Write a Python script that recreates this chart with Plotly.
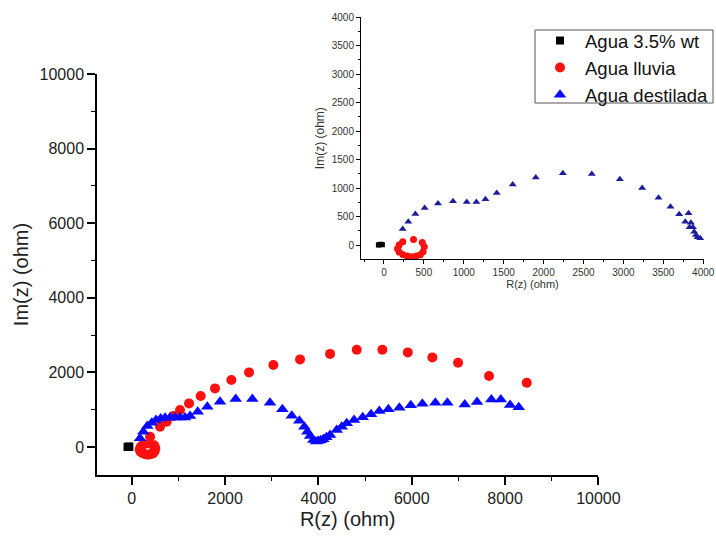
import plotly.graph_objects as go

# ---------------- data ----------------
# Main plot
main_black_x = [-90, -80, -70, -60, -50]
main_black_y = [0, 5, 10, 8, 4]

main_red_x = [235, 190, 170, 190, 235, 290, 347, 405, 455, 490, 505, 480, 370,
              393, 607, 750, 893, 1035, 1228, 1478, 1785, 2135, 2514, 3035, 3607,
              4250, 4822, 5371, 5915, 6442, 6993, 7657, 8465]
main_red_y = [55, 0, -65, -125, -165, -195, -205, -195, -170, -120, -30, 45, 95,
              277, 545, 679, 831, 992, 1170, 1367, 1572, 1796, 2001, 2198, 2349,
              2497, 2608, 2608, 2537, 2403, 2260, 1903, 1724]

main_blue_x = [178, 249, 334, 429, 521, 621, 714, 821, 928, 1035, 1142, 1249, 1414,
               1620, 1892, 2229, 2585, 2964, 3228, 3429, 3592, 3699, 3764, 3822,
               3892, 3950, 3999, 4050, 4106, 4170, 4250, 4393, 4500, 4607, 4764,
               4950, 5128, 5306, 5499, 5735, 5979, 6228, 6506, 6763, 7136, 7400,
               7706, 7908, 8107, 8293]
main_blue_y = [232, 411, 563, 652, 724, 768, 786, 790, 790, 790, 790, 831, 946,
               1081, 1215, 1286, 1286, 1188, 1010, 840, 706, 545, 411, 295,
               188, 150, 161, 180, 206, 260, 322, 456, 545, 634, 724,
               795, 876, 965, 1010, 1054, 1117, 1161, 1188, 1188, 1143, 1206,
               1277, 1277, 1125, 1063]

# Inset
inset_black_x = [-70, -60, -50, -40, -30, -20]
inset_black_y = [0, 5, 10, 12, 8, 4]

inset_red_x = [235, 190, 170, 190, 235, 290, 347, 405, 455, 490, 505, 480, 370]
inset_red_y = [55, 0, -65, -125, -165, -195, -205, -195, -170, -120, -30, 45, 95]

inset_blue_x = [234, 305, 393, 510, 677, 865, 1037, 1158, 1271, 1413, 1613, 1902,
                2241, 2604, 2955, 3235, 3440, 3590, 3699, 3816, 3775, 3846, 3829,
                3871, 3887, 3909, 3929, 3963]
inset_blue_y = [282, 410, 545, 650, 727, 768, 756, 756, 803, 914, 1061, 1184,
                1260, 1248, 1154, 1002, 832, 674, 539, 557, 410, 392, 311,
                311, 234, 176, 135, 117]

series_names = ["Agua 3.5% wt", "Agua lluvia", "Agua destilada"]
main_xticks = [0, 2000, 4000, 6000, 8000, 10000]
main_yticks = [0, 2000, 4000, 6000, 8000, 10000]
inset_ticks = [0, 500, 1000, 1500, 2000, 2500, 3000, 3500, 4000]

# ---------------- figure ----------------
# The page's body margin is removed (post_script below) so the figure fills
# the 716x538 window and pixel positions map directly.
OFF = 0
W, H = 716, 538


def fx(px):
    return (px - OFF) / W


def fy(py):
    return 1 - (py - OFF) / H


FONT = "Liberation Sans, Arial, sans-serif"
BLUE_MAIN = "#0a0aff"
BLUE_INSET = "#1d1d9a"
RED = "#ff1010"

fig = go.Figure()

fig.add_trace(go.Scatter(x=main_black_x, y=main_black_y, mode="markers",
                         name=series_names[0],
                         marker=dict(symbol="square", size=8, color="black"),
                         xaxis="x", yaxis="y"))
fig.add_trace(go.Scatter(x=main_red_x, y=main_red_y, mode="markers",
                         name=series_names[1],
                         marker=dict(symbol="circle", size=10, color=RED),
                         xaxis="x", yaxis="y"))
fig.add_trace(go.Scatter(x=main_blue_x, y=main_blue_y, mode="markers",
                         name=series_names[2],
                         marker=dict(symbol="triangle-up", size=11, color=BLUE_MAIN),
                         xaxis="x", yaxis="y"))

fig.add_trace(go.Scatter(x=inset_black_x, y=inset_black_y, mode="markers",
                         showlegend=False,
                         marker=dict(symbol="square", size=5, color="black"),
                         xaxis="x2", yaxis="y2"))
fig.add_trace(go.Scatter(x=inset_red_x, y=inset_red_y, mode="markers",
                         showlegend=False,
                         marker=dict(symbol="circle", size=7, color=RED),
                         xaxis="x2", yaxis="y2"))
fig.add_trace(go.Scatter(x=inset_blue_x, y=inset_blue_y, mode="markers",
                         showlegend=False,
                         marker=dict(symbol="triangle-up", size=7, color=BLUE_INSET),
                         xaxis="x2", yaxis="y2"))

axis_common = dict(showline=True, linecolor="black", showgrid=False,
                   zeroline=False, ticks="outside", tickcolor="black",
                   automargin=False)

# legend frame drawn as a shape so it can sit exactly where the reference has it
fig.add_shape(type="rect", xref="paper", yref="paper",
              x0=fx(535), x1=fx(713), y0=fy(103), y1=fy(30),
              line=dict(color="#555", width=1), fillcolor="white", layer="above")

fig.update_layout(
    width=W, height=H,
    margin=dict(l=0, r=0, t=0, b=0, autoexpand=False),
    paper_bgcolor="white", plot_bgcolor="rgba(0,0,0,0)",
    font=dict(family=FONT, color="#222"),
    showlegend=True,
    legend=dict(x=fx(535), y=fy(22), xanchor="left", yanchor="top",
                bgcolor="rgba(0,0,0,0)", borderwidth=0,
                font=dict(size=18.5, family=FONT, color="#111"),
                itemwidth=40, tracegroupgap=0),
    xaxis=dict(domain=[fx(97), fx(598.4)], range=[-744, 10000],
               tickvals=main_xticks, ticktext=[str(v) for v in main_xticks],
               ticklen=8, tickwidth=1.5, linewidth=1.5,
               minor=dict(dtick=1000, tick0=0, ticklen=4, ticks="outside",
                          tickcolor="black", tickwidth=1.2),
               tickfont=dict(size=16, color="#222"),
               title=dict(text="R(z) (ohm)", font=dict(size=20, color="#222"),
                          standoff=6),
               anchor="y", **axis_common),
    yaxis=dict(domain=[fy(475), fy(74)], range=[-750, 10000],
               tickvals=main_yticks, ticktext=[str(v) for v in main_yticks],
               ticklen=8, tickwidth=1.5, linewidth=1.5,
               minor=dict(dtick=1000, tick0=0, ticklen=4, ticks="outside",
                          tickcolor="black", tickwidth=1.2),
               tickfont=dict(size=16, color="#222"),
               title=dict(text="Im(z) (ohm)", font=dict(size=20, color="#222"),
                          standoff=6),
               anchor="x", **axis_common),
    xaxis2=dict(domain=[fx(361), fx(704)], range=[-288, 4010],
                tickvals=inset_ticks, ticktext=[str(v) for v in inset_ticks],
                ticklen=4, tickwidth=1, linewidth=1, ticklabeloverflow="allow",
                minor=dict(dtick=250, tick0=0, ticklen=2, ticks="outside",
                           tickcolor="black"),
                tickfont=dict(size=10, color="#333"),
                title=dict(text="R(z) (ohm)", font=dict(size=11, color="#333"),
                           standoff=2),
                anchor="y2", **axis_common),
    yaxis2=dict(domain=[fy(259), fy(17.3)], range=[-246, 4000],
                tickvals=inset_ticks, ticktext=[str(v) for v in inset_ticks],
                ticklen=4, tickwidth=1, linewidth=1,
                minor=dict(dtick=250, tick0=0, ticklen=2, ticks="outside",
                           tickcolor="black"),
                tickfont=dict(size=10, color="#333"),
                title=dict(text="Im(z) (ohm)", font=dict(size=12, color="#333"),
                           standoff=4),
                anchor="x2", **axis_common),
)

fig.write_html(
    "out.html",
    config={"displayModeBar": False},
    post_script="document.body.style.margin='0px';"
                "document.body.style.overflow='hidden';",
)
